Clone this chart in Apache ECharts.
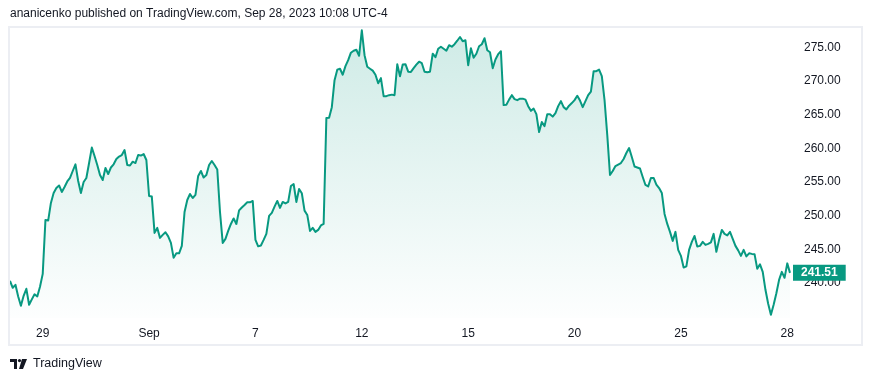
<!DOCTYPE html>
<html>
<head>
<meta charset="utf-8">
<script src="https://cdn.jsdelivr.net/npm/echarts@6/dist/echarts.min.js"></script>
<style>
html,body{margin:0;padding:0;background:#fff;}
#chart{width:872px;height:382px;}
</style>
</head>
<body>
<div id="chart"></div>
<script>
// Trading days shown (30-minute bars)
const days = ['2023-08-28','2023-08-29','2023-08-30','2023-08-31','2023-09-01','2023-09-05','2023-09-06','2023-09-07','2023-09-08','2023-09-11','2023-09-12','2023-09-13','2023-09-14','2023-09-15','2023-09-18','2023-09-19','2023-09-20','2023-09-21','2023-09-22','2023-09-25','2023-09-26','2023-09-27','2023-09-28'];
const sessionTimes = ['09:30','10:00','10:30','11:00','11:30','12:00','12:30','13:00','13:30','14:00','14:30','15:00','15:30'];
const firstDayStart = 1;   // first visible bar on Aug 28
const lastDayBars = 2;     // bars on Sep 28 at publish time

const tickDays = ['2023-08-29','2023-09-01','2023-09-07','2023-09-12','2023-09-15','2023-09-20','2023-09-25','2023-09-28'];
const tickLabels = ['29','Sep','7','12','15','20','25','28'];

const priceTicks = [240,245,250,255,260,265,270,275];

const closes = [
240.33,239.29,239.73,238.0,236.62,238.1,239.14,236.77,237.57,238.32,238.0,239.44,
241.36,249.38,249.28,251.9,253.38,254.12,254.5,253.53,254.27,255.09,255.61,256.65,257.64,
255.16,253.38,255.01,255.61,257.83,260.13,258.87,257.54,256.05,255.31,257.09,256.2,257.17,
257.64,258.43,258.8,259.02,259.76,257.54,257.47,258.03,257.83,259.02,258.95,259.17,258.28,
252.94,252.85,247.45,248.19,246.71,247.15,247.55,246.93,245.96,243.74,244.41,244.41,245.52,
250.56,252.34,253.23,252.64,253.09,255.91,256.65,255.68,256.05,257.54,258.13,257.54,256.87,
250.56,245.96,246.56,247.74,248.78,249.6,248.78,250.79,251.23,251.6,252.0,252.0,252.2,
246.41,245.45,245.57,246.41,247.3,249.97,250.42,251.35,252.2,251.16,252.05,251.82,252.05,
254.42,254.72,252.05,253.98,253.34,250.76,250.12,247.74,248.19,247.6,247.89,248.56,248.78,
264.51,264.55,266.14,270.15,271.71,271.85,270.96,272.23,273.12,274.23,274.53,274.67,273.78,
277.57,273.86,272.15,271.85,271.56,270.96,269.7,270.45,267.77,267.77,267.92,268.0,267.92,
272.52,270.74,272.48,272.52,271.41,271.38,271.93,272.45,272.89,272.67,271.41,271.34,271.41,
274.08,273.56,274.82,275.12,274.82,274.53,275.34,275.12,275.49,276.01,276.57,275.93,276.08,
272.37,274.9,273.49,274.08,275.19,275.49,276.38,274.6,274.3,271.93,273.22,274.01,274.45,
266.44,266.51,267.26,267.92,267.33,267.18,267.4,267.4,267.26,266.29,265.59,265.92,265.1,
262.43,263.92,263.32,265.1,265.1,264.73,265.25,266.29,267.03,266.14,265.8,266.36,266.74,
267.18,267.82,267.11,266.14,267.03,267.92,268.44,271.48,271.48,271.71,270.74,267.18,261.99,
256.05,256.65,257.39,257.61,257.83,258.43,259.32,260.06,258.72,257.31,257.17,257.02,255.76,
254.57,254.35,255.61,255.61,254.64,254.12,253.38,250.27,248.78,247.6,246.26,247.6,244.93,
244.04,242.3,242.48,244.93,246.11,247.0,245.42,245.52,246.11,245.67,245.82,246.04,247.3,
244.63,246.41,247.89,247.3,247.08,247.6,246.56,245.52,244.85,244.04,244.93,243.96,244.41,
244.33,244.29,242.11,242.78,241.66,238.99,236.91,235.28,236.77,238.47,240.47,241.66,240.77,
242.92,241.51
];

// build categories "YYYY-MM-DD HH:MM"
const categories = [];
days.forEach((d, i) => {
  let times = sessionTimes;
  if (i === 0) times = sessionTimes.slice(firstDayStart);
  if (i === days.length - 1) times = sessionTimes.slice(0, lastDayBars);
  times.forEach(t => categories.push(d + ' ' + t));
});
const tickCats = tickDays.map(d => d + ' ' + sessionTimes[0]);
const lastPrice = closes[closes.length - 1];

const FONT = 'Liberation Sans, Arial, sans-serif';
const TXT = '#131722';
const GREEN = '#089981';
const Y_MIN = 234.8, Y_MAX = 278.2;

const chart = echarts.init(document.getElementById('chart'), null, {renderer: 'canvas'});
chart.setOption({
  animation: false,
  backgroundColor: '#ffffff',
  grid: {left: 10, right: 82, top: 26, bottom: 64, containLabel: false},
  xAxis: {
    type: 'category',
    data: categories,
    boundaryGap: false,
    axisLine: {show: false},
    axisTick: {show: false},
    splitLine: {show: false},
    axisLabel: {
      interval: (idx, val) => tickCats.indexOf(val) >= 0,
      formatter: (val) => tickLabels[tickCats.indexOf(val)],
      color: TXT, fontSize: 12, fontFamily: FONT, margin: 10
    }
  },
  yAxis: [{
    type: 'value',
    position: 'right',
    min: Y_MIN,
    max: Y_MAX,
    axisLine: {show: false},
    axisTick: {show: false},
    splitLine: {show: false},
    axisLabel: {
      customValues: priceTicks,
      formatter: (v) => Number(v).toFixed(2),
      color: TXT, fontSize: 12, fontFamily: FONT, margin: 14
    }
  }, {
    type: 'value',
    position: 'right',
    min: Y_MIN,
    max: Y_MAX,
    z: 10,
    axisLine: {show: false},
    axisTick: {show: false},
    splitLine: {show: false},
    axisLabel: {
      customValues: [lastPrice],
      formatter: (v) => Number(v).toFixed(2),
      color: '#ffffff', fontWeight: 'bold', fontSize: 12, fontFamily: FONT,
      backgroundColor: GREEN, padding: [2, 8, 2, 8], margin: 3
    }
  }],
  series: [{
    type: 'line',
    data: closes,
    yAxisIndex: 0,
    symbol: 'none',
    lineStyle: {color: GREEN, width: 2, join: 'round'},
    itemStyle: {color: GREEN},
    areaStyle: {
      color: new echarts.graphic.LinearGradient(0, 0, 0, 1, [
        {offset: 0, color: 'rgba(8,153,129,0.28)'},
        {offset: 1, color: 'rgba(8,153,129,0.01)'}
      ])
    }
  }],
  graphic: [
    {type: 'rect', shape: {x: 9, y: 27, width: 853, height: 318}, style: {fill: 'none', stroke: '#eceef3', lineWidth: 2}, z: 100},
    {type: 'text', left: 10, top: 8, style: {text: 'ananicenko published on TradingView.com, Sep 28, 2023 10:08 UTC-4', fill: TXT, font: '12px ' + FONT}},
    {type: 'rect', shape: {x: 10, y: 359, width: 7, height: 3}, style: {fill: TXT}},
    {type: 'rect', shape: {x: 14, y: 359, width: 3, height: 10}, style: {fill: TXT}},
    {type: 'circle', shape: {cx: 19.5, cy: 360.6, r: 1.6}, style: {fill: TXT}},
    {type: 'polygon', shape: {points: [[22, 359], [27, 359], [23, 369], [19, 369]]}, style: {fill: TXT}},
    {type: 'text', left: 33, top: 357, style: {text: 'TradingView', fill: TXT, font: '12.5px ' + FONT}}
  ]
});
</script>
</body>
</html>
